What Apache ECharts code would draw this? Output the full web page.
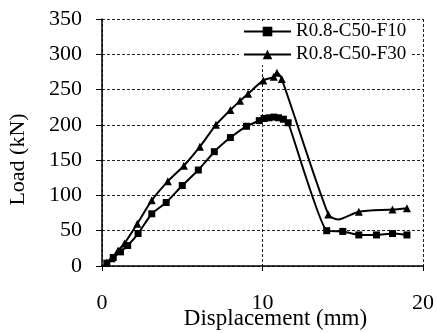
<!DOCTYPE html>
<html>
<head>
<meta charset="utf-8">
<script src="https://cdn.jsdelivr.net/npm/echarts@6/dist/echarts.min.js"></script>
<style>
  html, body { margin: 0; padding: 0; background: #fff; }
  #chart { width: 437px; height: 333px; }
</style>
</head>
<body>
<div id="chart"></div>
<script>
// Load–displacement curves for two specimens
const seriesNames = ['R0.8-C50-F10', 'R0.8-C50-F30'];

const dispF10 = [0.3, 0.7, 1.15, 1.6, 2.25, 3.1, 4.0, 5.0, 6.0, 7.0, 8.0, 9.0, 9.8, 10.1, 10.4, 10.7, 11.0, 11.3, 11.6, 14.0, 15.0, 16.0, 17.1, 18.1, 19.0];
const loadF10 = [4, 12, 20, 29, 46, 74, 90, 114, 136, 162, 182, 198, 206, 209, 210, 211, 210, 208, 203, 50, 49, 44, 44, 46, 44];

// F30 includes one unmarked reading at the post-peak trough (14.7 mm)
const dispF30 = [0.3, 0.6, 1.0, 1.4, 2.2, 3.1, 4.1, 5.1, 6.1, 7.1, 8.0, 8.6, 9.1, 10.05, 10.7, 10.9, 11.2, 14.1, 14.7, 16.0, 18.1, 19.0];
const loadF30 = [5, 11, 22, 32, 60, 93, 120, 142, 169, 200, 221, 234, 244, 263, 268, 274, 265, 73, 66, 77, 80, 82];
const unmarkedF30 = [14.7];

const xTicks = [0, 10, 20];
const yTicks = [0, 50, 100, 150, 200, 250, 300, 350];

const font = "'Liberation Serif', 'Times New Roman', serif";

const points = (xs, ys, hidden) => xs.map((x, i) =>
  hidden && hidden.includes(x) ? { value: [x, ys[i]], symbol: 'none' } : [x, ys[i]]);

const gridLine = { show: true, lineStyle: { color: '#222', width: 1, type: [3, 2] } };

const chart = echarts.init(document.getElementById('chart'), null, { renderer: 'canvas' });
chart.setOption({
  animation: false,
  backgroundColor: '#fff',
  grid: { left: 102, right: 14, top: 19, bottom: 67, containLabel: false, outerBoundsMode: 'none' },
  xAxis: {
    type: 'value',
    min: xTicks[0], max: xTicks[xTicks.length - 1], interval: 10,
    name: 'Displacement (mm)',
    nameLocation: 'middle',
    nameGap: 41,
    nameMoveOverlap: false,
    nameTextStyle: { fontFamily: font, fontSize: 23, color: '#000', padding: [0, 0, 0, 26] },
    axisLine: { show: true, onZero: false, lineStyle: { color: '#000', width: 1.5 } },
    axisTick: { show: true, inside: false, length: 5, lineStyle: { color: '#000' } },
    axisLabel: { margin: 26, fontFamily: font, fontSize: 22, color: '#000' },
    splitLine: gridLine
  },
  yAxis: {
    type: 'value',
    min: yTicks[0], max: yTicks[yTicks.length - 1], interval: 50,
    name: 'Load (kN)',
    nameLocation: 'middle',
    nameGap: 73,
    nameRotate: 90,
    nameMoveOverlap: false,
    nameTextStyle: { fontFamily: font, fontSize: 22, color: '#000', padding: [0, 34, 0, 0] },
    axisLine: { show: true, lineStyle: { color: '#000', width: 1.5 } },
    axisTick: { show: true, inside: false, length: 6, lineStyle: { color: '#000' } },
    axisLabel: { margin: 20, fontFamily: font, fontSize: 22, color: '#000' },
    splitLine: gridLine
  },
  legend: {
    orient: 'vertical',
    left: 239,
    top: 21,
    padding: [1, 4, 1, 4],
    itemWidth: 47,
    itemHeight: 12,
    itemGap: 4,
    backgroundColor: '#fff',
    textStyle: { fontFamily: font, fontSize: 19, color: '#000' },
    data: seriesNames
  },
  series: [
    {
      name: seriesNames[0],
      type: 'line',
      data: points(dispF10, loadF10),
      smooth: 0.15,
      symbol: 'rect',
      symbolSize: 7,
      itemStyle: { color: '#000' },
      lineStyle: { color: '#000', width: 2 }
    },
    {
      name: seriesNames[1],
      type: 'line',
      data: points(dispF30, loadF30, unmarkedF30),
      smooth: 0.25,
      symbol: 'triangle',
      symbolSize: 8,
      itemStyle: { color: '#000' },
      lineStyle: { color: '#000', width: 2 }
    }
  ]
});
</script>
</body>
</html>
